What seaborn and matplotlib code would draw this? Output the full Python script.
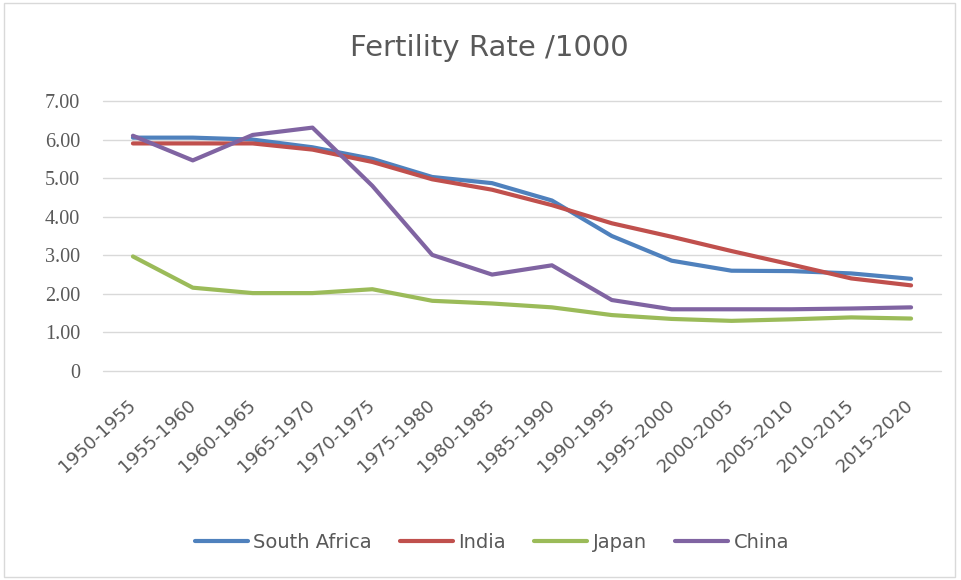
import matplotlib
matplotlib.use("Agg")
import matplotlib.pyplot as plt
import matplotlib.patches as mpatches
import seaborn as sns
import pandas as pd

periods = ["1950-1955", "1955-1960", "1960-1965", "1965-1970", "1970-1975",
           "1975-1980", "1980-1985", "1985-1990", "1990-1995", "1995-2000",
           "2000-2005", "2005-2010", "2010-2015", "2015-2020"]
south_africa = [6.05, 6.05, 6.00, 5.80, 5.50, 5.03, 4.87, 4.42, 3.50, 2.86, 2.60, 2.59, 2.53, 2.39]
india = [5.90, 5.90, 5.90, 5.74, 5.42, 4.97, 4.70, 4.30, 3.83, 3.48, 3.11, 2.76, 2.40, 2.22]
japan = [2.97, 2.16, 2.02, 2.02, 2.12, 1.82, 1.75, 1.65, 1.45, 1.35, 1.30, 1.34, 1.39, 1.36]
china = [6.10, 5.46, 6.12, 6.31, 4.80, 3.01, 2.50, 2.74, 1.84, 1.60, 1.60, 1.60, 1.62, 1.65]
countries = ["South Africa", "India", "Japan", "China"]
colors = ["#4F81BD", "#C0504D", "#9BBB59", "#8064A2"]
y_ticks = [0, 1, 2, 3, 4, 5, 6, 7]
y_labels = ["0", "1.00", "2.00", "3.00", "4.00", "5.00", "6.00", "7.00"]

frames = []
for name, vals in zip(countries, [south_africa, india, japan, china]):
    frames.append(pd.DataFrame({"Period": periods, "Rate": vals, "Country": name}))
df = pd.concat(frames, ignore_index=True)

sns.set_theme(style="white")
plt.rcParams["font.family"] = ["DejaVu Sans"]
text_grey = "#595959"

fig = plt.figure(figsize=(9.61, 5.80), dpi=100)
ax = fig.add_axes([103 / 961, 1 - 371 / 580, (941 - 103) / 961, (371 - 101) / 580])

sns.lineplot(data=df, x="Period", y="Rate", hue="Country", hue_order=countries,
             palette=colors, linewidth=3, sort=False, ax=ax, legend=True)

ax.set_xlim(-0.5, len(periods) - 0.5)
ax.set_ylim(0, 7)
ax.set_yticks(y_ticks)
ax.set_yticklabels(y_labels, family="Liberation Serif", fontsize=14.5)
ax.set_xticks(range(len(periods)))
ax.set_xticklabels(periods, rotation=43, ha="right", va="center",
                   rotation_mode="anchor", fontsize=13)
ax.tick_params(axis="both", length=0, colors=text_grey)
ax.tick_params(axis="y", pad=16.5)
ax.tick_params(axis="x", pad=23)
ax.grid(axis="y", color="#D9D9D9", linewidth=1)
for gl in ax.get_ygridlines():
    gl.set_clip_on(False)
ax.set_axisbelow(True)
for s in ax.spines.values():
    s.set_visible(False)
ax.set_xlabel("")
ax.set_ylabel("")

handles, labels = ax.get_legend_handles_labels()
ax.get_legend().remove()
fig.legend(handles, labels, loc="center", bbox_to_anchor=(492 / 961, 1 - 542 / 580),
           ncol=4, frameon=False, fontsize=14, handlelength=2.7, columnspacing=1.45,
           handletextpad=0.3, labelcolor=text_grey)

fig.text(489 / 961, 1 - 56 / 580, "Fertility Rate /1000", ha="center", va="baseline",
         fontsize=21, color=text_grey)

fig.patches.append(mpatches.Rectangle((4 / 961, 3 / 580), 951 / 961, 574 / 580,
                                      transform=fig.transFigure, fill=False,
                                      edgecolor="#D9D9D9", linewidth=1))

fig.savefig("out.png", dpi=100)
